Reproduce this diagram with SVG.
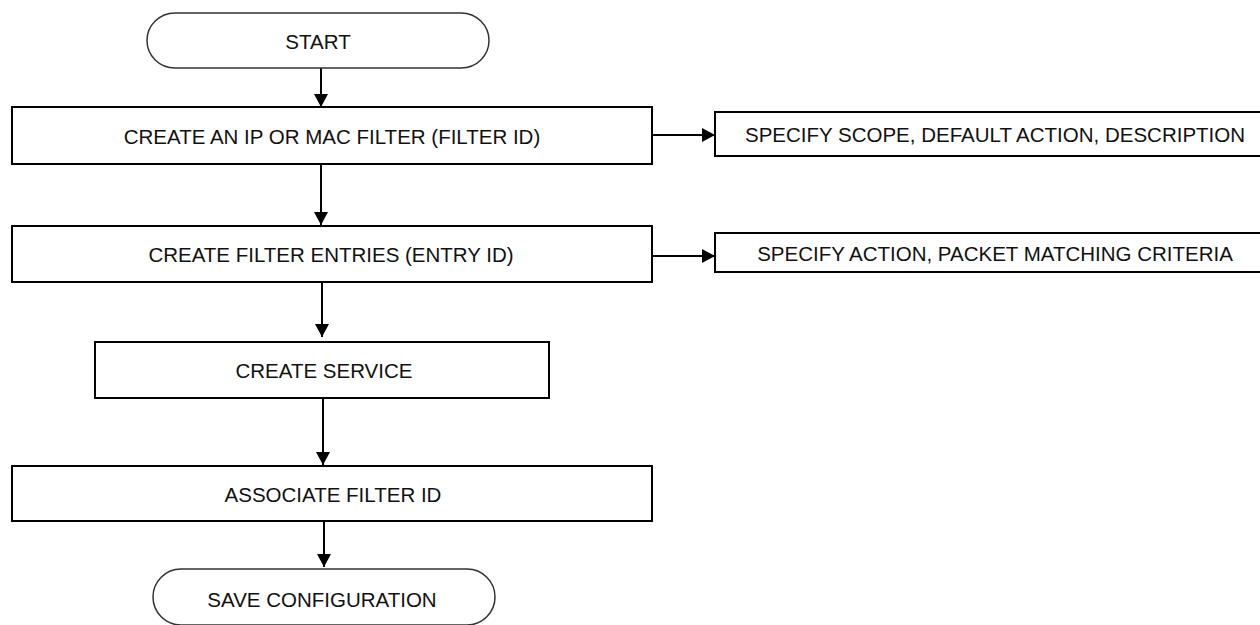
<svg xmlns="http://www.w3.org/2000/svg" width="1260" height="625" viewBox="0 0 1260 625">
  <style>
    .box { fill: #ffffff; stroke: #000000; stroke-width: 2; }
    .term { fill: #ffffff; stroke: #333333; stroke-width: 1.5; }
    .lbl { font-family: "Liberation Sans", Arial, sans-serif; font-size: 20.5px; fill: #111111; text-anchor: middle; dominant-baseline: central; }
    .wire { fill: none; stroke: #000000; stroke-width: 2; }
  </style>
  <defs>
    <marker id="arrow" viewBox="0 0 13 14" refX="13" refY="7" markerWidth="13" markerHeight="14" markerUnits="userSpaceOnUse" orient="auto">
      <path d="M0,0 L13,7 L0,14 Z" fill="#000000"/>
    </marker>
  </defs>

  <rect width="1260" height="625" fill="#ffffff"/>

  <!-- connectors -->
  <g id="connectors">
    <line class="wire" x1="321" y1="68" x2="321" y2="107" marker-end="url(#arrow)"/>
    <line class="wire" x1="321" y1="164" x2="321" y2="225" marker-end="url(#arrow)"/>
    <line class="wire" x1="322" y1="280" x2="322" y2="337" marker-end="url(#arrow)"/>
    <line class="wire" x1="323" y1="397" x2="323" y2="465" marker-end="url(#arrow)"/>
    <line class="wire" x1="324" y1="521" x2="324" y2="567" marker-end="url(#arrow)"/>
    <line class="wire" x1="652" y1="135" x2="715" y2="135" marker-end="url(#arrow)"/>
    <line class="wire" x1="652" y1="256" x2="715" y2="256" marker-end="url(#arrow)"/>
  </g>

  <!-- flow steps -->
  <g id="start">
    <rect class="term" x="147" y="13" width="342" height="55" rx="28" ry="27.5"/>
    <text class="lbl" x="318" y="41">START</text>
  </g>

  <g id="create-filter">
    <rect class="box" x="12" y="107" width="640" height="57"/>
    <text class="lbl" x="332" y="136">CREATE AN IP OR MAC FILTER (FILTER ID)</text>
  </g>

  <g id="filter-options">
    <rect class="box" x="715" y="112" width="570" height="44"/>
    <text class="lbl" x="995" y="134">SPECIFY SCOPE, DEFAULT ACTION, DESCRIPTION</text>
  </g>

  <g id="create-entries">
    <rect class="box" x="12" y="226" width="640" height="56"/>
    <text class="lbl" x="331" y="254">CREATE FILTER ENTRIES (ENTRY ID)</text>
  </g>

  <g id="entry-options">
    <rect class="box" x="715" y="233" width="570" height="39"/>
    <text class="lbl" x="995" y="253">SPECIFY ACTION, PACKET MATCHING CRITERIA</text>
  </g>

  <g id="create-service">
    <rect class="box" x="95" y="342" width="454" height="56"/>
    <text class="lbl" x="324" y="370">CREATE SERVICE</text>
  </g>

  <g id="associate-filter">
    <rect class="box" x="12" y="466" width="640" height="55"/>
    <text class="lbl" x="333" y="494">ASSOCIATE FILTER ID</text>
  </g>

  <g id="save-config">
    <rect class="term" x="153" y="569" width="342" height="56" rx="28" ry="28"/>
    <text class="lbl" x="322" y="599">SAVE CONFIGURATION</text>
  </g>
</svg>
